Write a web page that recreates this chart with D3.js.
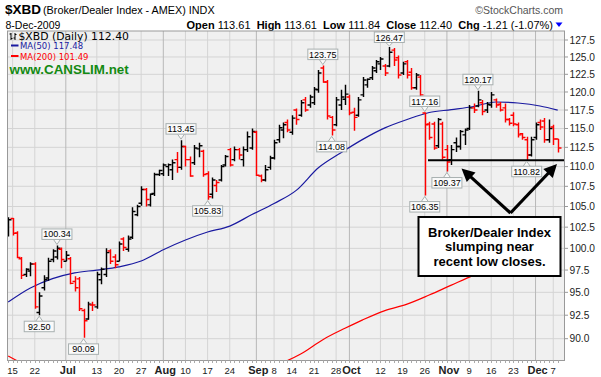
<!DOCTYPE html>
<html><head><meta charset="utf-8">
<script src="https://cdn.jsdelivr.net/npm/d3@7"></script>
<style>
html,body{margin:0;padding:0;background:#fff;}
svg{display:block;}
</style></head>
<body>
<svg id="chart" width="601" height="377"></svg>
<script>
// ---------- DATA ----------
const dates = [
"2009-06-12","2009-06-15","2009-06-16","2009-06-17","2009-06-18","2009-06-19","2009-06-22","2009-06-23","2009-06-24","2009-06-25","2009-06-26","2009-06-29","2009-06-30",
"2009-07-01","2009-07-02","2009-07-06","2009-07-07","2009-07-08","2009-07-09","2009-07-10","2009-07-13","2009-07-14","2009-07-15","2009-07-16","2009-07-17","2009-07-20","2009-07-21","2009-07-22","2009-07-23","2009-07-24","2009-07-27","2009-07-28","2009-07-29","2009-07-30","2009-07-31",
"2009-08-03","2009-08-04","2009-08-05","2009-08-06","2009-08-07","2009-08-10","2009-08-11","2009-08-12","2009-08-13","2009-08-14","2009-08-17","2009-08-18","2009-08-19","2009-08-20","2009-08-21","2009-08-24","2009-08-25","2009-08-26","2009-08-27","2009-08-28","2009-08-31",
"2009-09-01","2009-09-02","2009-09-03","2009-09-04","2009-09-08","2009-09-09","2009-09-10","2009-09-11","2009-09-14","2009-09-15","2009-09-16","2009-09-17","2009-09-18","2009-09-21","2009-09-22","2009-09-23","2009-09-24","2009-09-25","2009-09-28","2009-09-29","2009-09-30",
"2009-10-01","2009-10-02","2009-10-05","2009-10-06","2009-10-07","2009-10-08","2009-10-09","2009-10-12","2009-10-13","2009-10-14","2009-10-15","2009-10-16","2009-10-19","2009-10-20","2009-10-21","2009-10-22","2009-10-23","2009-10-26","2009-10-27","2009-10-28","2009-10-29","2009-10-30",
"2009-11-02","2009-11-03","2009-11-04","2009-11-05","2009-11-06","2009-11-09","2009-11-10","2009-11-11","2009-11-12","2009-11-13","2009-11-16","2009-11-17","2009-11-18","2009-11-19","2009-11-20","2009-11-23","2009-11-24","2009-11-25","2009-11-27","2009-11-30",
"2009-12-01","2009-12-02","2009-12-03","2009-12-04","2009-12-07","2009-12-08"];

const openP = [101.9,103.55,101.8,98.8,97.0,97.4,98.2,92.8,95.5,96.6,98.7,99.0,99.9,
98.5,98.8,96.2,96.5,93.0,92.1,93.6,93.4,96.4,97.0,99.7,99.0,98.5,101.1,99.9,101.3,104.0,105.4,107.1,105.2,106.6,109.0,
109.1,110.0,109.6,110.9,109.9,112.6,110.9,110.5,112.3,112.0,109.1,106.5,107.6,108.3,110.2,112.2,110.9,112.2,110.9,112.2,112.4,
114.5,108.8,108.3,109.9,111.1,113.5,114.8,115.8,114.5,117.5,116.8,118.9,118.2,118.5,120.3,123.4,121.4,116.5,115.5,118.2,119.0,
119.3,117.2,116.8,119.6,121.0,122.0,123.0,124.0,123.69,123.7,126.0,124.9,122.7,124.3,122.8,120.6,122.1,117.1,115.6,115.6,112.7,115.6,
112.2,110.9,113.1,112.6,114.15,115.0,117.8,118.06,118.5,117.5,118.2,118.9,118.3,117.8,116.2,116.8,115.5,114.3,113.5,111.5,
113.8,115.8,116.0,113.5,115.2,113.61];
const highP = [103.7,103.6,102.0,99.0,97.7,98.4,98.4,95.0,96.9,98.9,99.9,100.34,100.1,
99.7,99.0,96.8,96.7,93.2,93.95,93.95,97.3,97.8,100.0,99.9,99.3,100.8,101.3,101.5,104.9,105.2,107.5,107.3,106.6,109.2,109.6,
110.4,110.4,110.9,111.9,113.45,112.7,111.3,112.8,113.1,112.2,109.4,108.6,108.3,110.2,111.5,112.4,112.6,112.4,112.6,114.6,115.0,
114.7,109.0,110.2,111.4,113.5,115.5,115.8,116.2,116.8,117.7,118.9,119.3,119.6,120.7,123.1,123.75,121.7,116.7,119.3,120.3,121.0,
119.6,117.8,119.3,122.1,121.9,123.7,124.56,125.0,123.99,126.47,126.3,125.2,124.3,124.56,123.4,122.7,122.4,117.16,115.9,115.9,116.4,115.9,
112.8,112.8,113.8,114.8,115.0,118.2,118.4,120.17,118.9,118.6,120.0,119.1,118.6,118.4,116.4,117.2,115.8,114.4,113.9,113.9,
115.8,116.2,116.4,116.2,115.5,113.61];
const lowP = [101.4,101.5,98.85,96.5,96.7,96.8,93.2,92.50,95.2,96.3,98.4,98.7,97.7,
98.5,95.9,95.1,92.96,90.09,92.0,92.96,93.2,95.9,96.7,98.2,97.7,98.5,99.7,99.6,101.1,103.8,105.1,105.0,105.0,106.3,108.8,
108.8,108.8,108.3,109.2,109.6,110.0,108.7,110.2,111.2,108.7,105.83,106.0,106.8,108.1,110.0,110.0,110.7,110.9,110.0,111.9,112.2,
108.8,108.0,108.1,109.6,110.9,113.1,113.7,114.5,114.15,115.5,116.6,117.25,117.8,118.2,119.9,121.3,116.2,114.08,115.3,117.5,118.2,
116.8,114.7,116.6,119.3,120.6,121.7,122.7,123.1,122.27,123.5,123.7,121.9,122.4,121.9,120.3,120.3,119.3,106.35,113.5,112.2,112.4,110.9,
109.37,110.2,111.9,112.2,112.8,114.8,117.1,117.9,116.8,117.1,117.8,117.8,117.3,115.8,115.4,115.3,113.8,113.5,110.82,111.3,
113.5,114.8,113.1,113.1,112.8,111.84];
const closeP = [103.4,101.76,98.95,96.9,97.6,98.2,93.4,94.6,96.4,98.5,99.7,100.0,98.7,
99.2,96.0,95.5,93.2,91.9,93.7,93.6,97.0,97.6,99.5,98.5,98.1,100.5,100.1,101.1,104.4,105.0,107.1,105.85,106.5,109.0,109.5,
110.2,110.25,110.5,109.9,112.6,110.9,108.8,112.4,112.7,109.0,106.2,108.3,107.97,110.0,111.3,110.2,112.2,111.5,112.2,113.9,114.6,
108.9,108.3,109.6,111.1,113.1,115.1,115.5,114.8,116.4,116.2,118.5,117.5,119.3,120.4,122.7,121.4,116.7,114.8,118.9,119.3,119.7,
117.1,116.5,118.9,121.7,121.8,123.4,124.3,124.7,122.7,125.7,124.56,122.4,124.0,122.4,120.6,122.4,119.6,115.5,113.8,112.4,116.2,111.2,
110.6,112.2,112.6,114.6,114.8,117.8,117.5,118.9,117.3,118.3,119.6,118.2,117.5,116.2,115.7,115.6,114.15,113.8,111.5,113.5,
115.5,115.2,113.5,115.0,113.61,112.40];

// moving averages (bar index, value)
const ma50Idx = [0,5,10,15,20,25,30,35,40,45,50,55,60,65,70,75,80,85,90,95,100,105,110,115,120,124];
const ma50Val = [93.93,95.48,96.53,97.18,97.50,97.87,98.53,99.84,100.98,101.92,102.63,104.02,105.37,106.99,109.85,111.76,113.55,115.08,116.21,117.16,117.56,117.99,118.61,118.47,118.06,117.48];
const ma200Idx = [0,3,10,20,30,40,50,58,63,66,71,76,80,85,90,95,100,105,110,115,120,124];
const ma200Val = [88.2,87.5,86.6,86.0,85.8,85.9,86.3,87.0,87.73,88.4,89.9,91.1,92.0,93.0,93.7,94.7,95.8,96.9,97.9,99.2,100.5,101.49];

// price labels: bar index, value, above (H) / below (L)
const peakIdx = [7,11,17,39,45,71,73,86,94,94,99,106,117];
const peakVal = [92.50,100.34,90.09,113.45,105.83,123.75,114.08,126.47,117.16,106.35,109.37,120.17,110.82];
const peakPos = ["L","H","L","H","L","H","L","H","H","L","L","H","L"];

const yTicks = [90.0,92.5,95.0,97.5,100.0,102.5,105.0,107.5,110.0,112.5,115.0,117.5,120.0,122.5,125.0,127.5];
const xTickDates = ["2009-06-15","2009-06-22","2009-07-01","2009-07-13","2009-07-20","2009-07-27","2009-08-03","2009-08-10","2009-08-17","2009-08-24","2009-09-01","2009-09-08","2009-09-14","2009-09-21","2009-09-28","2009-10-01","2009-10-12","2009-10-19","2009-10-26","2009-11-02","2009-11-09","2009-11-16","2009-11-23","2009-12-01","2009-12-07"];
const xTickLabels = ["15","22","Jul","13","20","27","Aug","10","17","24","Sep","8","14","21","28","Oct","12","19","26","Nov","9","16","23","Dec","7"];

const supportLevel = 110.82;
const noteLines = ["Broker/Dealer Index","slumping near","recent low closes."];

// ---------- LAYOUT ----------
const L = 7.5, R = 564.5, T = 31, B = 360.5;
const svg = d3.select("#chart");
const x = d3.scalePoint().domain(dates).range([8.2, 557.7]);
const y = d3.scaleLog().domain([90, 127.5]).range([338.7, 40]);
const xi = i => x(dates[i]);

// header
const hdr = svg.append("g");
hdr.append("text").attr("x",5).attr("y",13.5).attr("font-family","Liberation Sans, Arial, sans-serif")
  .attr("font-size",13.5).attr("font-weight","bold").text("$XBD");
hdr.append("text").attr("x",43).attr("y",13.5).attr("font-family","Liberation Sans, Arial, sans-serif")
  .attr("font-size",10.8).text("(Broker/Dealer Index - AMEX) INDX");
hdr.append("text").attr("x",563).attr("y",13.5).attr("text-anchor","end").attr("fill","#555")
  .attr("font-family","Liberation Sans, Arial, sans-serif").attr("font-size",10.5).text("\u00A9StockCharts.com");
hdr.append("text").attr("x",5.5).attr("y",28.5).attr("font-family","Liberation Sans, Arial, sans-serif")
  .attr("font-size",10.5).text("8-Dec-2009");
const q = hdr.append("text").attr("x",553).attr("y",28.5).attr("text-anchor","end")
  .attr("font-family","Liberation Sans, Arial, sans-serif").attr("font-size",11).attr("style","white-space:pre");
[["Open ",true],["113.61  ",false],["High ",true],["113.61  ",false],["Low ",true],["111.84  ",false],
 ["Close ",true],["112.40  ",false],["Chg ",true],["-1.21 (-1.07%)",false]].forEach(([t,b])=>{
  q.append("tspan").attr("font-weight",b?"bold":"normal").text(t);
});
hdr.append("path").attr("d","M555.5,22.5 L562.5,22.5 L559,27 Z").attr("fill","#0000ff");

// plot background
svg.append("rect").attr("x",L).attr("y",T).attr("width",R-L).attr("height",B-T).attr("fill","#f0f0f0");

// grid
const grid = svg.append("g");
yTicks.forEach(v=>{
  grid.append("line").attr("x1",L).attr("x2",R).attr("y1",y(v)).attr("y2",y(v)).attr("stroke","#d4d4d4").attr("stroke-width",1);
});
xTickDates.forEach((d,i)=>{
  const bold = isNaN(+xTickLabels[i]);
  grid.append("line").attr("x1",x(d)).attr("x2",x(d)).attr("y1",T).attr("y2",B)
    .attr("stroke",bold?"#b8b8b8":"#d4d4d4").attr("stroke-width",1);
});

// clip
svg.append("clipPath").attr("id","clip").append("rect").attr("x",L).attr("y",T).attr("width",R-L).attr("height",B-T);
const plot = svg.append("g").attr("clip-path","url(#clip)");

// moving averages
const lineGen = d3.line().curve(d3.curveMonotoneX);
plot.append("path").attr("d", lineGen(ma200Idx.map((k,i)=>[xi(k), y(ma200Val[i])])))
  .attr("fill","none").attr("stroke","#ff0000").attr("stroke-width",1.2);
plot.append("path").attr("d", lineGen(ma50Idx.map((k,i)=>[xi(k), y(ma50Val[i])])))
  .attr("fill","none").attr("stroke","#1a1aa0").attr("stroke-width",1.2);

// OHLC bars
const bars = plot.append("g");
dates.forEach((d,i)=>{
  const prev = i>0 ? closeP[i-1] : openP[i];
  const col = closeP[i] < prev ? "#ff0000" : "#000000";
  const cx = Math.round(x(d)) + 0.5;
  const g = bars.append("g").attr("stroke",col).attr("stroke-width",1.45);
  g.append("line").attr("x1",cx).attr("x2",cx).attr("y1",y(highP[i])).attr("y2",y(lowP[i]));
  g.append("line").attr("x1",cx-3).attr("x2",cx).attr("y1",y(openP[i])).attr("y2",y(openP[i]));
  g.append("line").attr("x1",cx).attr("x2",cx+3).attr("y1",y(closeP[i])).attr("y2",y(closeP[i]));
});

// support line
plot.append("line").attr("x1",428).attr("x2",R).attr("y1",y(supportLevel)).attr("y2",y(supportLevel))
  .attr("stroke","#000").attr("stroke-width",2.2);

// price labels
const lab = svg.append("g").attr("font-family","Liberation Sans, Arial, sans-serif").attr("font-size",9);
peakIdx.forEach((k,i)=>{
  const px = xi(k), py = y(peakVal[i]);
  const txt = peakVal[i].toFixed(2);
  const w = 30, h = 10.5;
  const up = peakPos[i]==="H";
  let by = up ? py - 6 - h : py + 6;
  by = Math.max(by, T+1);
  const bx = px - w/2;
  lab.append("path").attr("d", up
      ? `M${px-3.5},${by+h} L${px},${py-1} L${px+3.5},${by+h}`
      : `M${px-3.5},${by} L${px},${py+1} L${px+3.5},${by}`)
    .attr("fill","#fafafa").attr("stroke","#a8b0b0").attr("stroke-width",1);
  lab.append("rect").attr("x",bx).attr("y",by).attr("width",w).attr("height",h)
    .attr("fill","#fafafa").attr("stroke","#a8b0b0").attr("stroke-width",1);
  lab.append("text").attr("x",px).attr("y",by+h-2).attr("text-anchor","middle").attr("fill","#000").text(txt);
});

// legend
const leg = svg.append("g").attr("font-family","DejaVu Sans, Verdana, sans-serif");
leg.append("path").attr("d","M11,33 L11,40 M9.5,34 L11,34 M11,38.5 L12.5,38.5 M15,33 L15,40 M13.5,38 L15,38 M15,34.5 L16.5,34.5")
  .attr("stroke","#000").attr("stroke-width",1).attr("fill","none");
leg.append("text").attr("x",18.5).attr("y",39.5).attr("font-size",10.8).attr("fill","#000").text("$XBD (Daily) 112.40");
leg.append("line").attr("x1",11).attr("x2",18.5).attr("y1",45.5).attr("y2",45.5).attr("stroke","#1a1aa0").attr("stroke-width",2);
leg.append("text").attr("x",20).attr("y",49).attr("font-size",8.5).attr("fill","#1a1aa0").text("MA(50) 117.48");
leg.append("line").attr("x1",11).attr("x2",18.5).attr("y1",56).attr("y2",56).attr("stroke","#ff0000").attr("stroke-width",2);
leg.append("text").attr("x",20).attr("y",59.5).attr("font-size",8.5).attr("fill","#ff0000").text("MA(200) 101.49");
svg.append("text").attr("x",9.5).attr("y",74).attr("font-family","Liberation Sans, Arial, sans-serif")
  .attr("font-size",13.4).attr("font-weight","bold").attr("fill","#138a13").text("www.CANSLIM.net");

// arrows
const arr = svg.append("g");
const apex = [510.5, 213];
[[461.5,168.5],[557,164]].forEach(([tx,ty])=>{
  const dx = tx-apex[0], dy = ty-apex[1], len = Math.hypot(dx,dy), ux = dx/len, uy = dy/len;
  const hl = 13, hw = 6.5;
  const bx = tx - ux*hl, by = ty - uy*hl;
  arr.append("line").attr("x1",apex[0]).attr("y1",apex[1]).attr("x2",bx+ux*2).attr("y2",by+uy*2)
    .attr("stroke","#000").attr("stroke-width",3.2);
  arr.append("path").attr("d",`M${tx},${ty} L${bx-uy*hw},${by+ux*hw} L${bx+uy*hw},${by-ux*hw} Z`).attr("fill","#000");
});

// note box
svg.append("rect").attr("x",418.5).attr("y",217).attr("width",142).attr("height",59)
  .attr("fill","#fff").attr("stroke","#000").attr("stroke-width",2);
noteLines.forEach((t,i)=>{
  svg.append("text").attr("x",489.5).attr("y",236.5+i*14.8).attr("text-anchor","middle")
    .attr("font-family","Liberation Sans, Arial, sans-serif").attr("font-size",13).attr("font-weight","bold").text(t);
});

// frame
svg.append("rect").attr("x",L).attr("y",T).attr("width",R-L).attr("height",B-T).attr("fill","none").attr("stroke","#999").attr("stroke-width",1);

// y axis
const ya = svg.append("g").attr("font-family","Liberation Sans, Arial, sans-serif").attr("font-size",10.2);
yTicks.forEach(v=>{
  ya.append("line").attr("x1",R).attr("x2",R+3.5).attr("y1",y(v)).attr("y2",y(v)).attr("stroke","#999");
  ya.append("text").attr("x",569.5).attr("y",y(v)+3.6).attr("fill","#222").text(v.toFixed(1));
});

// x axis
const xa = svg.append("g").attr("font-family","Liberation Sans, Arial, sans-serif");
dates.forEach(d=>{
  xa.append("line").attr("x1",Math.round(x(d))+0.5).attr("x2",Math.round(x(d))+0.5).attr("y1",B).attr("y2",B+2.5).attr("stroke","#aaa");
});
xTickDates.forEach((d,i)=>{
  const bold = isNaN(+xTickLabels[i]);
  xa.append("text").attr("x",x(d)+(bold?2:0)).attr("y",374).attr("text-anchor","middle")
    .attr("font-size",bold?11:9.5).attr("font-weight",bold?"bold":"normal").attr("fill","#222").text(xTickLabels[i]);
});
</script>
</body></html>
